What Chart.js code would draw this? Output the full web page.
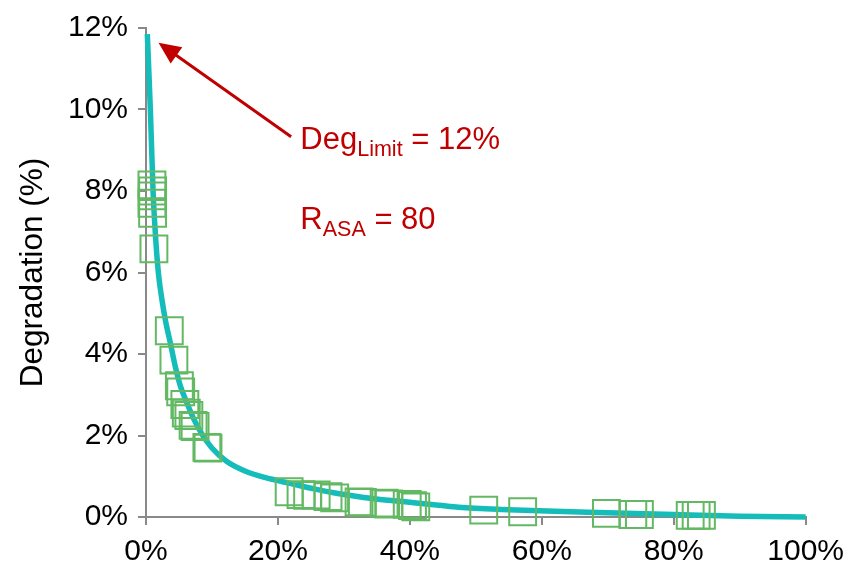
<!DOCTYPE html>
<html>
<head>
<meta charset="utf-8">
<script src="https://cdn.jsdelivr.net/npm/chart.js@4.4.1/dist/chart.umd.min.js"></script>
<style>
  html, body { margin: 0; padding: 0; background: #fff; }
  #wrap { width: 853px; height: 574px; }
</style>
</head>
<body>
<div id="wrap"><canvas id="myChart" width="853" height="574"></canvas></div>
<script>
// fitted degradation curve (x: % of range, y: degradation %)
const curveX = [0.2, 0.66, 1.07, 1.4, 1.87, 2.4, 3.0, 3.68, 4.4, 5.18, 6.2, 7.19, 8.5, 9.96, 12.2, 15, 18, 22, 25.5, 29.3, 33, 36.8, 40, 44.4, 47.4, 55, 62, 68.5, 80, 90, 100];
const curveY = [11.85, 10.0, 8.0, 7.0, 6.0, 5.35, 4.78, 4.28, 3.72, 3.23, 2.8, 2.42, 2.03, 1.70, 1.37, 1.13, 0.97, 0.82, 0.69, 0.57, 0.48, 0.41, 0.36, 0.29, 0.24, 0.18, 0.14, 0.11, 0.06, 0.02, 0];

// measured samples
const sampleX = [0.9, 1.0, 0.95, 0.9, 1.0, 1.2,
  3.53, 4.23, 5.06, 5.26, 5.89, 6.11, 6.5, 7.14, 7.44, 9.23, 9.4,
  21.7, 23.5, 24.5, 25.8, 27.6, 28.6, 32.3, 32.8, 36.1, 36.8, 39.6, 40.4, 40.9,
  51.2, 57.1, 69.8, 73.8, 74.8, 82.5, 83.4, 84.2];
const sampleY = [8.15, 8.0, 7.88, 7.7, 7.45, 6.58,
  4.57, 3.85, 3.22, 3.07, 2.76, 2.55, 2.49, 2.25, 2.22, 1.71, 1.69,
  0.62, 0.55, 0.53, 0.54, 0.5, 0.47, 0.37, 0.36, 0.34, 0.32, 0.31, 0.28, 0.25,
  0.17, 0.13, 0.09, 0.06, 0.06, 0.04, 0.04, 0.04];

const xTicks = [0, 20, 40, 60, 80, 100];
const yTicks = [0, 2, 4, 6, 8, 10, 12];

// arrow from the label up to the curve start
const arrowFrom = { x: 22.0, y: 9.33 };
const arrowTo = { x: 1.9, y: 11.64 };
const labelAt = { x: 23.4, y1: 9.03, y2: 7.07 };

const FONT = '"Liberation Sans", Arial, sans-serif';
const RED = '#C00000';
const AXIS = '#898989';

const annotate = {
  id: 'annotate',
  afterDraw(chart) {
    const ctx = chart.ctx;
    const xs = chart.scales.x, ys = chart.scales.y;
    const x1 = xs.getPixelForValue(arrowFrom.x), y1 = ys.getPixelForValue(arrowFrom.y);
    const x2 = xs.getPixelForValue(arrowTo.x), y2 = ys.getPixelForValue(arrowTo.y);
    const ang = Math.atan2(y2 - y1, x2 - x1);
    const headLen = 22, headW = 10;
    const c = Math.cos(ang), s = Math.sin(ang);
    ctx.save();
    ctx.strokeStyle = RED;
    ctx.fillStyle = RED;
    ctx.lineWidth = 3;
    ctx.beginPath();
    ctx.moveTo(x1, y1);
    ctx.lineTo(x2 - c * (headLen - 3), y2 - s * (headLen - 3));
    ctx.stroke();
    ctx.beginPath();
    ctx.moveTo(x2, y2);
    ctx.lineTo(x2 - c * headLen + s * headW, y2 - s * headLen - c * headW);
    ctx.lineTo(x2 - c * headLen - s * headW, y2 - s * headLen + c * headW);
    ctx.closePath();
    ctx.fill();

    // label text with subscripts
    const drawSub = (x, y, main, sub, rest) => {
      ctx.font = '31px ' + FONT;
      ctx.fillText(main, x, y);
      x += ctx.measureText(main).width;
      ctx.font = '21.5px ' + FONT;
      ctx.fillText(sub, x, y + 7);
      x += ctx.measureText(sub).width;
      ctx.font = '31px ' + FONT;
      ctx.fillText(rest, x, y);
    };
    ctx.textBaseline = 'alphabetic';
    ctx.textAlign = 'left';
    const lx = xs.getPixelForValue(labelAt.x);
    drawSub(lx, ys.getPixelForValue(labelAt.y1), 'Deg', 'Limit', ' = 12%');
    drawSub(lx, ys.getPixelForValue(labelAt.y2), 'R', 'ASA', ' = 80');
    ctx.restore();
  }
};

const ctx = document.getElementById('myChart').getContext('2d');

const data = {
  datasets: [
    {
      type: 'line',
      label: 'Fit',
      data: curveX.map((x, i) => ({ x: x, y: curveY[i] })),
      borderColor: '#14BDBA',
      borderWidth: 5.5,
      pointRadius: 0,
      cubicInterpolationMode: 'monotone',
      fill: false,
      clip: false,
      order: 2
    },
    {
      type: 'scatter',
      label: 'Samples',
      data: sampleX.map((x, i) => ({ x: x, y: sampleY[i] })),
      pointStyle: 'rect',
      pointRadius: 19,
      pointHoverRadius: 19,
      borderColor: '#63B963',
      borderWidth: 2,
      backgroundColor: 'rgba(0,0,0,0)',
      clip: false,
      order: 1
    }
  ]
};

const config = {
  type: 'scatter',
  data: data,
  options: {
    responsive: false,
    animation: false,
    events: [],
    layout: { padding: { left: 0, top: 22, right: 44, bottom: 0 } },
    plugins: {
      legend: { display: false },
      tooltip: { enabled: false }
    },
    scales: {
      x: {
        type: 'linear',
        min: 0,
        max: 100,
        afterFit: (scale) => { scale.height = 57; },
        afterBuildTicks: (scale) => { scale.ticks = xTicks.map(v => ({ value: v })); },
        ticks: {
          padding: 9,
          color: '#000',
          font: { family: FONT, size: 30 },
          callback: (v) => v + '%'
        },
        grid: { drawOnChartArea: false, drawTicks: true, tickLength: 8, color: AXIS, lineWidth: 2 },
        border: { display: true, color: AXIS, width: 2 }
      },
      y: {
        type: 'linear',
        min: 0,
        max: 12,
        afterFit: (scale) => { scale.width = 146; },
        afterBuildTicks: (scale) => { scale.ticks = yTicks.map(v => ({ value: v })); },
        ticks: {
          padding: 10,
          color: '#000',
          font: { family: FONT, size: 30 },
          callback: (v) => v + '%'
        },
        title: {
          display: true,
          text: 'Degradation (%)',
          color: '#000',
          font: { family: FONT, size: 31.5 },
          padding: { top: 14, bottom: 0 }
        },
        grid: { drawOnChartArea: false, drawTicks: true, tickLength: 8, color: AXIS, lineWidth: 2 },
        border: { display: true, color: AXIS, width: 2 }
      }
    }
  },
  plugins: [annotate]
};

const myChart = new Chart(ctx, config);
</script>
</body>
</html>
